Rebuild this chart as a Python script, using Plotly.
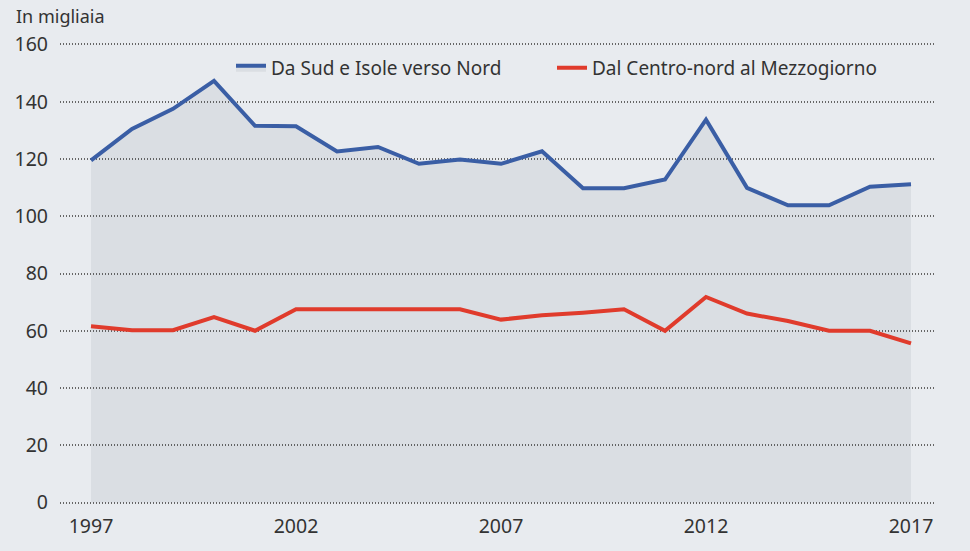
import plotly.graph_objects as go

years = list(range(1997, 2018))
sud_nord = [119.5, 130.5, 137.5, 147.3, 131.6, 131.4, 122.6, 124.2, 118.3, 119.8, 118.3,
            122.7, 109.8, 109.8, 112.8, 133.7, 109.9, 103.8, 103.8, 110.3, 111.2]
centro_mezzo = [61.6, 60.2, 60.2, 64.8, 60.0, 67.5, 67.5, 67.5, 67.5, 67.5, 63.9,
                65.4, 66.3, 67.5, 60.0, 71.8, 66.0, 63.4, 60.0, 60.0, 55.6]
name_sud = "Da Sud e Isole verso Nord"
name_centro = "Dal Centro-nord al Mezzogiorno"
x_ticks = [1997, 2002, 2007, 2012, 2017]
y_ticks = [0, 20, 40, 60, 80, 100, 120, 140, 160]
y_title = "In migliaia"

BG = "#e8ebef"
FONT = "Noto Sans"
TXT = "#333333"

fig = go.Figure()
fig.add_trace(go.Scatter(
    x=years, y=sud_nord, name=name_sud, mode="lines",
    line=dict(color="#3a5ea5", width=4),
    fill="tozeroy", fillcolor="rgba(60,65,75,0.075)",
    legend="legend",
))
fig.add_trace(go.Scatter(
    x=years, y=centro_mezzo, name=name_centro, mode="lines",
    line=dict(color="#e03b2c", width=4),
    legend="legend2",
))

W, H = 970, 551
l, r, t, b = 60, 34, 43, 43
pw = W - l - r
ph = H - t - b

def px_x(p):
    return (p - l) / pw

def px_y(p):
    return 1 - (p - t) / ph

legend_common = dict(
    orientation="h", yanchor="middle", xanchor="left",
    bgcolor="rgba(0,0,0,0)", font=dict(size=19, color=TXT),
)

fig.update_layout(
    width=W, height=H,
    margin=dict(l=l, r=r, t=t, b=b),
    paper_bgcolor=BG, plot_bgcolor=BG,
    font=dict(family=FONT, size=19, color=TXT),
    showlegend=True,
    legend=dict(x=px_x(231), y=px_y(68), **legend_common),
    legend2=dict(x=px_x(552), y=px_y(68), **legend_common),
    xaxis=dict(
        range=[1997 - 31 / 41, 2017 + 25 / 41],
        tickvals=x_ticks, showgrid=False, zeroline=False, showline=False,
        ticks="", ticklabelstandoff=8,
        tickfont=dict(size=19.5, color=TXT),
    ),
    yaxis=dict(
        range=[-0.5, 160.5], tickvals=y_ticks,
        showgrid=True, gridcolor="#666666", griddash="1px,2px", gridwidth=1.5,
        zeroline=False, showline=False, ticks="", ticklabelstandoff=11,
        tickfont=dict(size=19.5, color=TXT),
    ),
    annotations=[dict(
        text=y_title, xref="paper", yref="paper", x=px_x(14), y=px_y(16),
        xanchor="left", yanchor="middle", showarrow=False,
        font=dict(size=18, color=TXT),
    )],
)

fig.write_html(
    "out.html",
    config={"responsive": False, "displayModeBar": False},
    post_script="document.body.style.margin='0';"
                "document.body.style.overflow='hidden';"
                "document.documentElement.style.overflow='hidden';",
)
